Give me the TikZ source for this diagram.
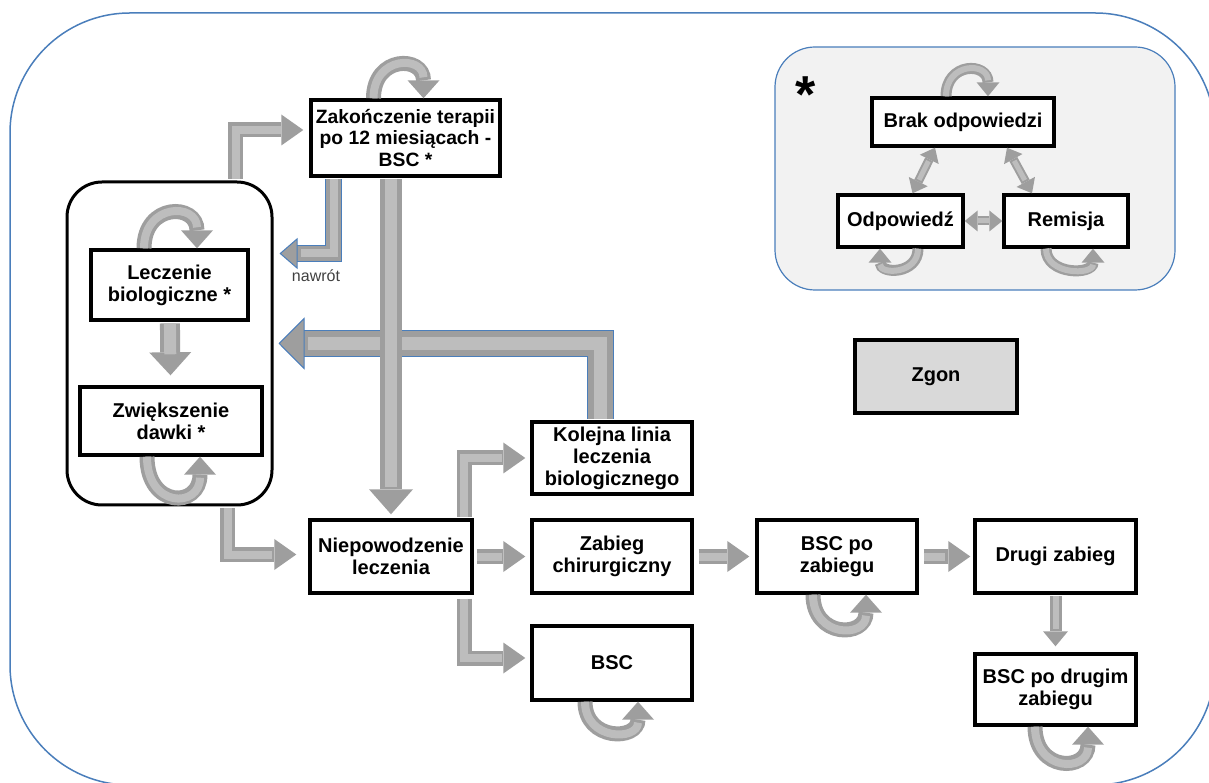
\documentclass[tikz,border=0pt]{standalone}
\usepackage{fontspec}
\setmainfont{Liberation Sans}
\usepackage{tikz}
\usetikzlibrary{arrows.meta}

\definecolor{frameblue} {HTML}{4A7EBB}
\definecolor{legendfill}{HTML}{F2F2F2}
\definecolor{deadfill}  {HTML}{D9D9D9}
\definecolor{arrowfill} {HTML}{9E9E9E}
\definecolor{arrowcore} {HTML}{BDBDBD}
\definecolor{softink}   {HTML}{404040}
\newcommand{\boxfont}{\fontsize{20}{22}\selectfont\bfseries}

\tikzset{
  % --- nodes
  sbox/.style      = {draw=black, line width=3.4pt, fill=white, align=center,
                      inner sep=1pt, font=\boxfont},
  dead/.style      = {sbox, fill=deadfill},
  grpbox/.style    = {draw=black, line width=3pt, fill=white, rounded corners=35pt,
                      minimum width=205pt, minimum height=323pt},
  legendbox/.style = {draw=frameblue, line width=1.2pt, fill=legendfill,
                      rounded corners=40pt, minimum width=400pt, minimum height=243pt},
  % --- block arrows
  blk/.style       = {draw=arrowfill, line width=15pt,
                      -{Triangle[width=31pt,length=22pt,line width=0pt,fill=arrowfill]},
                      postaction={draw=arrowcore, line width=8pt, -, shorten >=#1}},
  blk/.default     = 28pt,
  blkbig/.style    = {draw=arrowfill, line width=22pt,
                      -{Triangle[width=44pt,length=25pt,line width=0pt,fill=arrowfill]},
                      postaction={draw=arrowcore, line width=12pt, -, shorten >=31pt}},
  blksmall/.style  = {draw=arrowfill, line width=12pt,
                      -{Triangle[width=25pt,length=15pt,line width=0pt,fill=arrowfill]},
                      postaction={draw=arrowcore, line width=6pt, -, shorten >=23pt}},
  nawrotarr/.style = {draw=arrowfill, line width=15pt,
                      -{Triangle[width=31pt,length=18pt,line width=1pt,color=frameblue,fill=arrowfill]},
                      preaction={draw=frameblue, line width=17pt, -, shorten >=20pt},
                      postaction={draw=arrowcore, line width=8pt, -, shorten >=27pt}},
  backarr/.style   = {draw=arrowfill, line width=25pt,
                      -{Triangle[width=52pt,length=26pt,line width=1pt,color=frameblue,fill=arrowfill]},
                      preaction={draw=frameblue, line width=27pt, -, shorten >=26pt},
                      postaction={draw=arrowcore, line width=13pt, -, shorten >=34pt}},
  dbl/.style       = {draw=arrowfill, line width=9pt,
                      {Triangle[width=21pt,length=13pt,line width=0pt,fill=arrowfill]}-{Triangle[width=21pt,length=13pt,line width=0pt,fill=arrowfill]},
                      postaction={draw=arrowcore, line width=5pt, -, shorten >=15pt, shorten <=15pt}},
  loopbig/.style   = {draw=arrowfill, line width=15pt,
                      -{Triangle[width=32pt,length=18pt,line width=0pt,fill=arrowfill]},
                      postaction={draw=arrowcore, line width=8pt, -, shorten >=21pt}},
  loopsmall/.style = {draw=arrowfill, line width=11pt,
                      -{Triangle[width=23pt,length=14pt,line width=0pt,fill=arrowfill]},
                      postaction={draw=arrowcore, line width=6pt, -, shorten >=16pt}},
}

\begin{document}
\begin{tikzpicture}[x=1pt,y=1pt]
  \useasboundingbox (0,0) rectangle (1209,782);
  % outer frame
  \begin{scope}
    \clip (0,0) rectangle (1209,782);
    \draw[draw=frameblue,line width=1.5pt,rounded corners=120pt] (10,-3) rectangle (1215,769);
  \end{scope}

  % legend with the response states
  \node[legendbox] (legend) at (975,613.5) {};
  \node[anchor=base,font=\fontsize{52}{52}\selectfont\bfseries,inner sep=0pt] (star) at (806,669) {*};
  \node[sbox,minimum width=182pt,minimum height=48pt] (brak) at (963,660)  {Brak odpowiedzi};
  \node[sbox,minimum width=125pt,minimum height=52pt] (odp)  at (900.5,561) {Odpowiedź};
  \node[sbox,minimum width=124pt,minimum height=52pt] (rem)  at (1066,561)  {Remisja};

  \draw[dbl] ([xshift=-28pt]brak.south) -- ([xshift=12pt]odp.north);
  \draw[dbl] ([xshift=44pt]brak.south) -- ([xshift=-34pt]rem.north);
  \draw[dbl,postaction={draw=arrowcore, line width=5pt, -, shorten >=13pt, shorten <=13pt}] (odp) -- (rem);
  \draw[loopsmall] ([xshift=-17pt]brak.north) to[out=90,in=90,looseness=2.1] ([xshift=25pt]brak.north);
  \draw[loopsmall] ([xshift=17.5pt]odp.south) to[out=-90,in=-90,looseness=1.75] ([xshift=-20.5pt]odp.south);
  \draw[loopsmall] ([xshift=-20pt]rem.south) to[out=-90,in=-90,looseness=1.45] ([xshift=27pt]rem.south);

  % biological treatment block
  \node[grpbox] (grp) at (169.5,438.5) {};
  \node[sbox,minimum width=157pt,minimum height=70pt] (lecz) at (169.5,497) {Leczenie\\biologiczne *};
  \node[sbox,minimum width=182pt,minimum height=68pt] (zwi)  at (171,361)   {Zwiększenie\\dawki *};

  % main states
  \node[sbox,minimum width=189pt,minimum height=76pt,font=\fontsize{19.3}{21.5}\selectfont\bfseries]
       (zak) at (405.5,644) {Zakończenie terapii\\po 12 miesiącach -\\BSC *};
  \node[sbox,minimum width=162pt,minimum height=73pt] (niep)  at (391,225.5)  {Niepowodzenie\\leczenia};
  \node[sbox,minimum width=160pt,minimum height=72pt] (kol)   at (612,324)    {Kolejna linia\\leczenia\\biologicznego};
  \node[sbox,minimum width=160pt,minimum height=73pt] (zab)   at (612,225.5)  {Zabieg\\chirurgiczny};
  \node[sbox,minimum width=160pt,minimum height=74pt] (bsc)   at (612,119)    {BSC};
  \node[sbox,minimum width=160pt,minimum height=73pt] (bscz)  at (837,225.5)  {BSC po\\zabiegu};
  \node[sbox,minimum width=161pt,minimum height=73pt] (drugi) at (1055.5,225.5) {Drugi zabieg};
  \node[sbox,minimum width=161pt,minimum height=71pt] (bscd)  at (1055.5,92.5)  {BSC po drugim\\zabiegu};
  \node[dead,minimum width=162pt,minimum height=73pt] (zgon)  at (936,405.5)  {Zgon};

  % transitions
  \draw[backarr,shorten <=1.7pt,shorten >=5pt] ([xshift=-12pt]kol.north) |- (grp.east);
  \draw[blkbig,shorten <=1.7pt,shorten >=4pt] (zak.south -| niep.north) -- (niep.north);
  \draw[blk,shorten <=1.5pt,shorten >=6pt] ([xshift=66pt]grp.north) |- ([yshift=8pt]zak.west);
  \draw[nawrotarr,shorten <=1.7pt,shorten >=6pt] ([xshift=-72pt]zak.south) |- ([yshift=90pt]grp.east);
  \node[font=\fontsize{16}{16}\selectfont,text=softink] (nawrot) at (316,506) {nawrót};
  \draw[blkbig,line width=20pt,shorten <=1.7pt,shorten >=10pt,
        -{Triangle[width=42pt,length=23pt,line width=0pt,fill=arrowfill]}] (lecz) -- (zwi);
  \draw[blk=36pt,shorten <=1.5pt,shorten >=12pt] ([xshift=58pt]grp.south) |- ([yshift=2pt]niep.west);
  \draw[blk,shorten <=1.7pt,shorten >=5pt] ([xshift=73pt]niep.north) |- (kol.west);
  \draw[blk,shorten <=3pt,shorten >=5pt] (niep) -- (zab);
  \draw[blk,shorten <=4pt,shorten >=5pt] ([xshift=73pt]niep.south) |- ([yshift=5pt]bsc.west);
  \draw[blk,shorten <=5pt,shorten >=6pt] (zab) -- (bscz);
  \draw[blk,shorten <=5pt,shorten >=3pt] (bscz) -- (drugi);
  \draw[blksmall,shorten <=1.7pt,shorten >=6pt] (drugi) -- (bscd);

  % staying in a state
  \draw[loopbig] ([xshift=-32pt]zak.north) to[out=90,in=90,looseness=2.2] ([xshift=18pt]zak.north);
  \draw[loopbig] ([xshift=-25.5pt]lecz.north) to[out=90,in=90,looseness=2.2] ([xshift=27.5pt]lecz.north);
  \draw[loopbig] ([xshift=-24pt]zwi.south) to[out=-90,in=-90,looseness=2.5] ([xshift=29pt]zwi.south);
  \draw[loopbig] ([xshift=-27pt]bsc.south) to[out=-90,in=-90,looseness=1.9] ([xshift=26pt]bsc.south);
  \draw[loopbig] ([xshift=-24pt]bscz.south) to[out=-90,in=-90,looseness=2.1] ([xshift=29pt]bscz.south);
  \draw[loopbig] ([xshift=-20.5pt]bscd.south) to[out=-90,in=-90,looseness=2.2] ([xshift=32.5pt]bscd.south);
\end{tikzpicture}
\end{document}
